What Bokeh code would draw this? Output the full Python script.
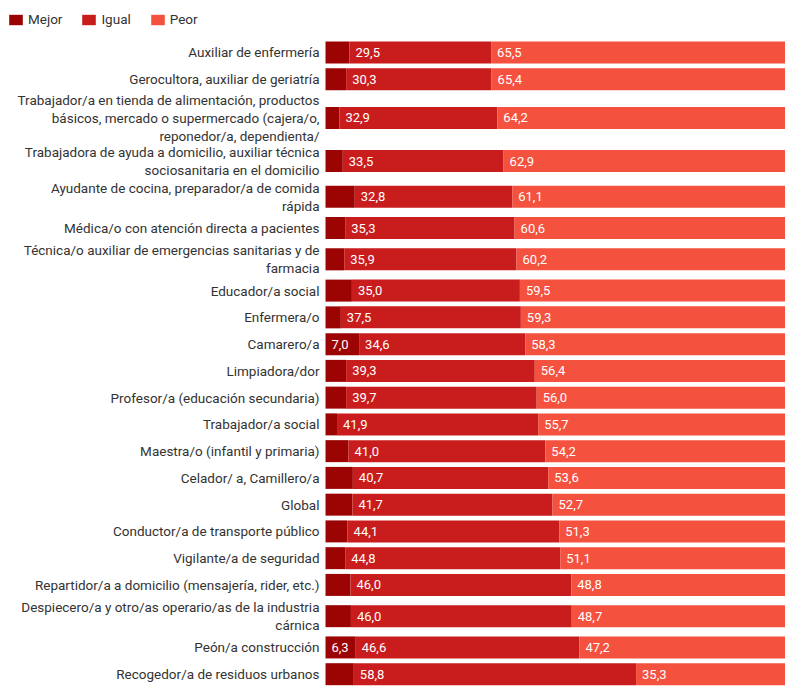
import numpy as np
from bokeh.plotting import figure
from bokeh.models import ColumnDataSource, Range1d, Legend, LegendItem
from bokeh.core.properties import value
from bokeh.embed import file_html
from bokeh.resources import INLINE

# ---------------- data ----------------
categories = [
    "Auxiliar de enfermería",
    "Gerocultora, auxiliar de geriatría",
    "Trabajador/a en tienda de alimentación, productos\nbásicos, mercado o supermercado (cajera/o,\nreponedor/a, dependienta/",
    "Trabajadora de ayuda a domicilio, auxiliar técnica\nsociosanitaria en el domicilio",
    "Ayudante de cocina, preparador/a de comida\nrápida",
    "Médica/o con atención directa a pacientes",
    "Técnica/o auxiliar de emergencias sanitarias y de\nfarmacia",
    "Educador/a social",
    "Enfermera/o",
    "Camarero/a",
    "Limpiadora/dor",
    "Profesor/a (educación secundaria)",
    "Trabajador/a social",
    "Maestra/o (infantil y primaria)",
    "Celador/ a, Camillero/a",
    "Global",
    "Conductor/a de transporte público",
    "Vigilante/a de seguridad",
    "Repartidor/a a domicilio (mensajería, rider, etc.)",
    "Despiecero/a y otro/as operario/as de la industria\ncárnica",
    "Peón/a construcción",
    "Recogedor/a de residuos urbanos",
]
mejor = [5.0, 4.3, 2.9, 3.6, 6.1, 4.1, 3.9, 5.5, 3.2, 7.0, 4.3, 4.3, 2.4, 4.8, 5.7, 5.6, 4.6, 4.1, 5.2, 5.3, 6.3, 5.9]
igual = [29.5, 30.3, 32.9, 33.5, 32.8, 35.3, 35.9, 35.0, 37.5, 34.6, 39.3, 39.7, 41.9, 41.0, 40.7, 41.7, 44.1, 44.8, 46.0, 46.0, 46.6, 58.8]
peor = [65.5, 65.4, 64.2, 62.9, 61.1, 60.6, 60.2, 59.5, 59.3, 58.3, 56.4, 56.0, 55.7, 54.2, 53.6, 52.7, 51.3, 51.1, 48.8, 48.7, 47.2, 35.3]
series_names = ["Mejor", "Igual", "Peor"]

# ---------------- style / layout ----------------
colors = ["#9c0404", "#c91d1d", "#f5513f"]
W, H = 785, 687
FONT = "Roboto"
scale = 0.98
row_h = {1: 27.3 * scale, 2: 36.5 * scale, 3: 51.6 * scale}
top0 = 38.6
bar_h = 22.0
px_per_unit = 4.8
bar_left_px = 325

n_lines = [c.count("\n") + 1 for c in categories]
heights = np.array([row_h[n] for n in n_lines])
centers = top0 + np.cumsum(heights) - heights / 2

fmt = lambda v: f"{v:.1f}".replace(".", ",")

m = np.array(mejor)
ig = np.array(igual)
pe = np.array(peor)

src = ColumnDataSource(dict(
    y=centers, cat=categories, Mejor=m, Igual=ig, Peor=pe,
    x_ig=m, x_pe=m + ig,
    t_ig=[fmt(v) for v in ig], t_pe=[fmt(v) for v in pe],
))
show_m = m > 6.2
src_m = ColumnDataSource(dict(x=np.zeros(show_m.sum()), y=centers[show_m],
                              t=[fmt(v) for v in m[show_m]]))

x0 = -bar_left_px / px_per_unit
p = figure(width=W, height=H, output_backend="svg", toolbar_location=None,
           x_range=Range1d(x0, x0 + W / px_per_unit), y_range=Range1d(H, 0),
           min_border=0, x_axis_location=None, y_axis_location=None)
p.grid.visible = False
p.outline_line_color = None
p.background_fill_color = "white"

rs = p.hbar_stack(series_names, y="y", height=bar_h, color=colors,
                  line_color=None, source=src)

# category labels
p.text(x=0, y="y", text="cat", source=src, x_offset=-6,
       text_align="right", text_baseline="middle",
       text_font=value(FONT), text_font_size="13.5px", text_color="#333333",
       text_line_height=1.12)

# value labels
common = dict(text_baseline="middle", text_align="left", text_color="white",
              text_font=value(FONT), text_font_size="13px", x_offset=6)
p.text(x="x_ig", y="y", text="t_ig", source=src, **common)
p.text(x="x_pe", y="y", text="t_pe", source=src, **common)
p.text(x="x", y="y", text="t", source=src_m, **common)

legend = Legend(items=[LegendItem(label=n, renderers=[r]) for n, r in zip(series_names, rs)],
                orientation="horizontal", location=(7, H - 27),
                glyph_width=17, glyph_height=13, label_height=13,
                label_standoff=4, spacing=18, padding=0, margin=0,
                border_line_color=None, background_fill_alpha=0,
                label_text_font=FONT, label_text_font_size="13.5px",
                label_text_color="#333333")
p.add_layout(legend)

open("out.html", "w").write(file_html(p, INLINE))
